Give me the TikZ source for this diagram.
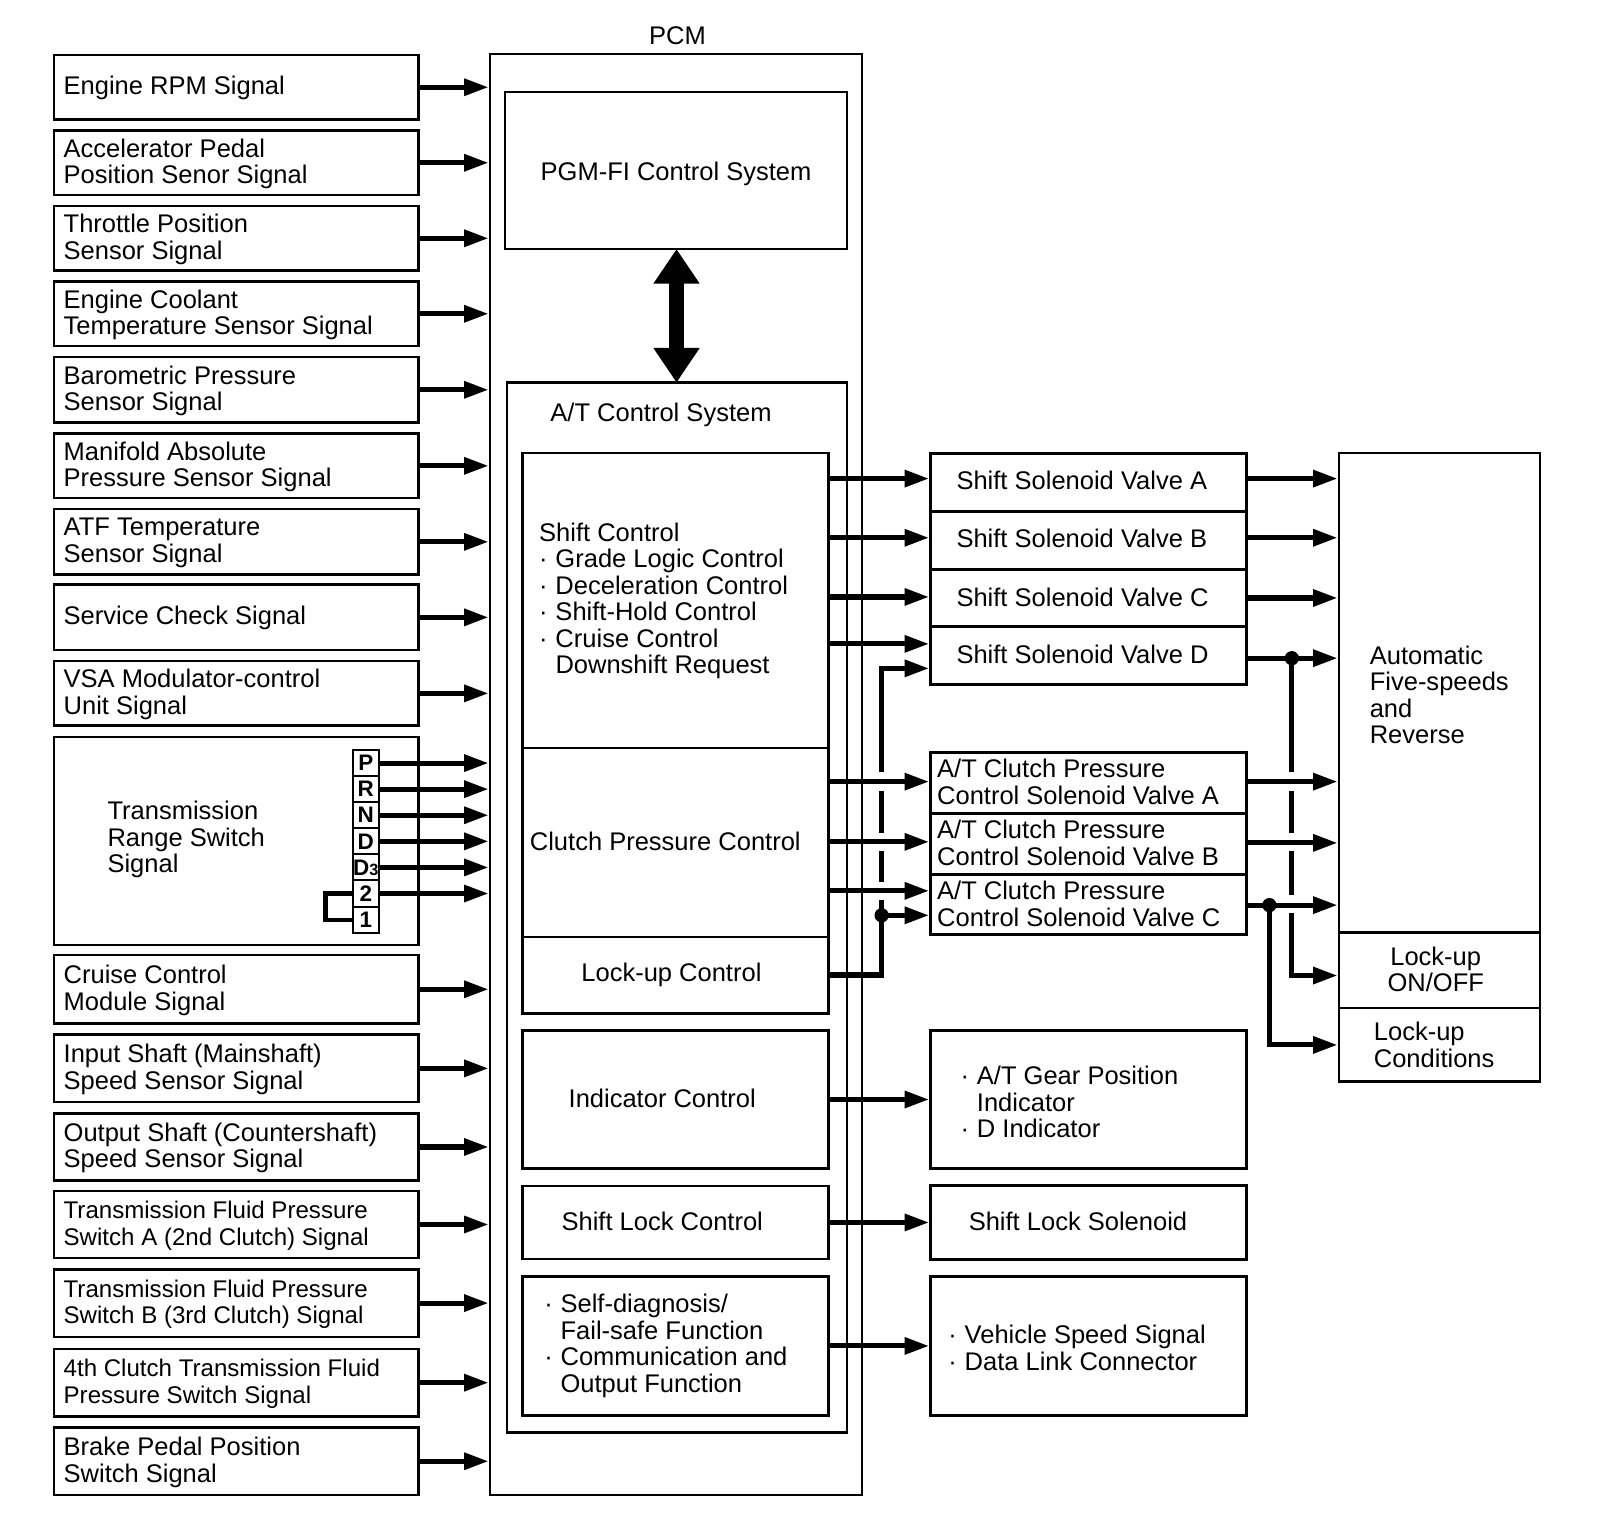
\documentclass[tikz,border=0pt]{standalone}
\usepackage{fontspec}
\setmainfont{Liberation Sans}
\usetikzlibrary{fit,arrows.meta}
\newcommand\bl{\makebox[8pt][l]{·}}
\begin{document}
\begin{tikzpicture}[x=0.5pt,y=-0.5pt,
 box/.style={draw,line width=1.2pt,inner sep=0pt},
 vbox/.style={draw,line width=1.5pt,inner sep=0pt},
 lbl/.style={inner sep=0pt,font=\fontsize{12.5}{13}\selectfont,align=left},
 clbl/.style={inner sep=0pt,font=\fontsize{12.5}{13}\selectfont,align=center},
 let/.style={draw,line width=1pt,inner sep=0pt,font=\fontsize{11}{11}\bfseries},
 arr/.style={line width=2.5pt,-{Triangle[length=12pt,width=8pt]}},
 ln/.style={line width=2.5pt},
 dot/.style={circle,fill,inner sep=0pt,minimum size=7pt}]
\useasboundingbox (0,0) rectangle (1568,1505.3);

% PCM
\node[box,fit={(480,53) (845,1465)}] (pcm) {};
\node[clbl] (pcmt) at (664,35) {PCM};
\node[box,fit={(495,90) (830,244)}] (pgm) {};
\node[clbl] (pgmt) at (662.5,170) {PGM-FI Control System};
\node[box,fit={(497,375) (830,1404)}] (at) {};
\node[lbl,anchor=west] (att) at (539,407) {A/T Control System};
\draw[line width=7pt,{Triangle[length=17pt,width=21.5pt]}-{Triangle[length=17pt,width=21.5pt]}] (663,244) -- (663,375);

% inner control blocks
\node[box,fit={(512,444) (812,733)}] (sc) {};
\node[lbl,anchor=west] (sct) at (528,589) {Shift Control\\\bl Grade Logic Control\\\bl Deceleration Control\\\bl Shift-Hold Control\\\bl Cruise Control\\\hspace*{8pt}Downshift Request};
\node[box,fit={(512,733) (812,918)}] (cp) {};
\node[clbl] (cpt) at (652,825) {Clutch Pressure Control};
\node[box,fit={(512,918) (812,993)}] (lu) {};
\node[clbl] (lut) at (658,955) {Lock-up Control};
\node[box,fit={(512,1010) (812,1145)}] (ic) {};
\node[clbl] (ict) at (649,1076) {Indicator Control};
\node[box,fit={(512,1162) (812,1234)}] (slc) {};
\node[clbl] (slct) at (649,1197) {Shift Lock Control};
\node[box,fit={(512,1251) (812,1387)}] (sd) {};
\node[lbl,anchor=west] (sdt) at (533,1319) {\bl Self-diagnosis/\\\hspace*{8pt}Fail-safe Function\\\bl Communication and\\\hspace*{8pt}Output Function};

% left input boxes
\foreach \n/\a/\b/\t/\f in {
 s1/54/117/{Engine RPM Signal}/12.5,
 s2/128/191/{Accelerator Pedal\\Position Senor Signal}/12.5,
 s3/202/265/{Throttle Position\\Sensor Signal}/12.5,
 s4/276/339/{Engine Coolant\\Temperature Sensor Signal}/12.5,
 s5/350/414/{Barometric Pressure\\Sensor Signal}/12.5,
 s6/425/488/{Manifold Absolute\\Pressure Sensor Signal}/12.5,
 s7/499/563/{ATF Temperature\\Sensor Signal}/12.5,
 s8/573/637/{Service Check Signal}/12.5,
 s9/648/711/{VSA Modulator-control\\Unit Signal}/12.5,
 s11/936/1003/{Cruise Control\\Module Signal}/12.5,
 s12/1014/1080/{Input Shaft (Mainshaft)\\Speed Sensor Signal}/12.5,
 s13/1091/1157/{Output Shaft (Countershaft)\\Speed Sensor Signal}/12.5,
 s14/1167/1233/{Transmission Fluid Pressure\\Switch A (2nd Clutch) Signal}/11.8,
 s15/1244/1310/{Transmission Fluid Pressure\\Switch B (3rd Clutch) Signal}/11.8,
 s16/1322/1388/{4th Clutch Transmission Fluid\\Pressure Switch Signal}/11.8,
 s17/1399/1465/{Brake Pedal Position\\Switch Signal}/12.5}
{
 \node[box,fit={(53,\a) (410,\b)}] (\n) {};
 \node[lbl,anchor=west,font=\fontsize{\f}{13}\selectfont] (\n t) at (62,{(\a+\b)/2+1}) {\t};
 \draw[arr] (\n.east) -- (\n.east -| pcm.west);
}

% transmission range switch
\node[box,fit={(53,722) (410,926)}] (s10) {};
\node[lbl,anchor=west] (s10t) at (105,823) {Transmission\\Range Switch\\Signal};
\foreach \n/\l/\i in {P/P/0,R/R/1,N/N/2,D/D/3,E/{D{\fontsize{8}{8}\selectfont 3}}/4,T/2/5,O/1/6}
{
 \node[let,fit={(346,735+\i*25.57) (371,760.57+\i*25.57)}] (g\n) {};
 \node[inner sep=0pt,font=\fontsize{11}{11}\bfseries\selectfont] (g\n t) at (g\n.center) {\l};
}
\foreach \n in {P,R,N,D,E,T}
 \draw[arr] (g\n.east) -- (g\n.east -| pcm.west);
\draw[line width=2pt] (gO.west) -- ++(-26,0) |- (gT.west);

% right valve boxes
\node[vbox,fit={(912,444) (1222,501)}] (vA) {};
\node[vbox,fit={(912,501) (1222,558)}] (vB) {};
\node[vbox,fit={(912,558) (1222,614)}] (vC) {};
\node[vbox,fit={(912,614) (1222,671)}] (vD) {};
\node[lbl,anchor=west] (vAt) at (937,471) {Shift Solenoid Valve A};
\node[lbl,anchor=west] (vBt) at (937,528) {Shift Solenoid Valve B};
\node[lbl,anchor=west] (vCt) at (937,585) {Shift Solenoid Valve C};
\node[lbl,anchor=west] (vDt) at (937,641) {Shift Solenoid Valve D};
\node[vbox,fit={(912,737) (1222,797)}] (cA) {};
\node[vbox,fit={(912,797) (1222,857)}] (cB) {};
\node[vbox,fit={(912,857) (1222,916)}] (cC) {};
\node[lbl,anchor=west] (cAt) at (918,766) {A/T Clutch Pressure\\Control Solenoid Valve A};
\node[lbl,anchor=west] (cBt) at (918,826) {A/T Clutch Pressure\\Control Solenoid Valve B};
\node[lbl,anchor=west] (cCt) at (918,886) {A/T Clutch Pressure\\Control Solenoid Valve C};
\node[vbox,fit={(912,1010) (1222,1145)}] (ind) {};
\node[lbl,anchor=west] (indt) at (941,1080) {\bl A/T Gear Position\\\hspace*{8pt}Indicator\\\bl D Indicator};
\node[vbox,fit={(912,1162) (1222,1234)}] (sls) {};
\node[lbl,anchor=west] (slst) at (949,1197) {Shift Lock Solenoid};
\node[vbox,fit={(912,1251) (1222,1387)}] (vs) {};
\node[lbl,anchor=west] (vst) at (929,1321) {\bl Vehicle Speed Signal\\\bl Data Link Connector};

% automatic transmission box
\node[box,fit={(1312,444) (1509,914)}] (aut) {};
\node[box,fit={(1312,914) (1509,988)}] (lon) {};
\node[box,fit={(1312,988) (1509,1060)}] (lcd) {};
\node[lbl,anchor=west] (autt) at (1342,681) {Automatic\\Five-speeds\\and\\Reverse};
\node[clbl] (lont) at (1407,950) {Lock-up\\ON/OFF};
\node[lbl,anchor=west] (lcdt) at (1346,1024) {Lock-up\\Conditions};

% control -> valves
\draw[arr] (sc.east |- 0,469) -- (vA.west |- 0,469);
\draw[arr] (sc.east |- 0,527) -- (vB.west |- 0,527);
\draw[arr] (sc.east |- 0,585) -- (vC.west |- 0,585);
\draw[arr] (sc.east |- 0,631) -- (vD.west |- 0,631);
\draw[arr] (cp.east |- 0,766) -- (cA.west |- 0,766);
\draw[arr] (cp.east |- 0,825) -- (cB.west |- 0,825);
\draw[arr] (cp.east |- 0,873) -- (cC.west |- 0,873);
\coordinate (j1) at (864,897);
\draw[ln] (lu.east) -| (864,882);
\draw[ln] (864,864) -- (864,834);
\draw[ln] (864,816) -- (864,775);
\draw[arr] (864,757) |- (vD.west |- 0,655);
\draw[arr] (j1) -- (cC.west |- j1);
\node[dot] (d1) at (j1) {};
\draw[arr] (ic.east) -- (ind.west);
\draw[arr] (slc.east) -- (sls.west);
\draw[arr] (sd.east) -- (vs.west);

% valves -> transmission
\draw[arr] (vA.east |- 0,469) -- (aut.west |- 0,469);
\draw[arr] (vB.east |- 0,527) -- (aut.west |- 0,527);
\draw[arr] (vC.east |- 0,586) -- (aut.west |- 0,586);
\draw[arr] (vD.east |- 0,645) -- (aut.west |- 0,645);
\draw[arr] (cA.east |- 0,766) -- (aut.west |- 0,766);
\draw[arr] (cB.east |- 0,826) -- (aut.west |- 0,826);
\draw[arr] (cC.east |- 0,887) -- (aut.west |- 0,887);
\coordinate (j2) at (1266,645);
\draw[ln] (j2) -- (1266,757);
\draw[ln] (1266,775) -- (1266,816);
\draw[ln] (1266,834) -- (1266,877);
\draw[arr] (1266,895) |- (lon.west |- 0,956);
\node[dot] (d2) at (j2) {};
\coordinate (j3) at (1244,887);
\draw[arr] (j3) |- (lcd.west |- 0,1024);
\node[dot] (d3) at (j3) {};
\end{tikzpicture}
\end{document}
